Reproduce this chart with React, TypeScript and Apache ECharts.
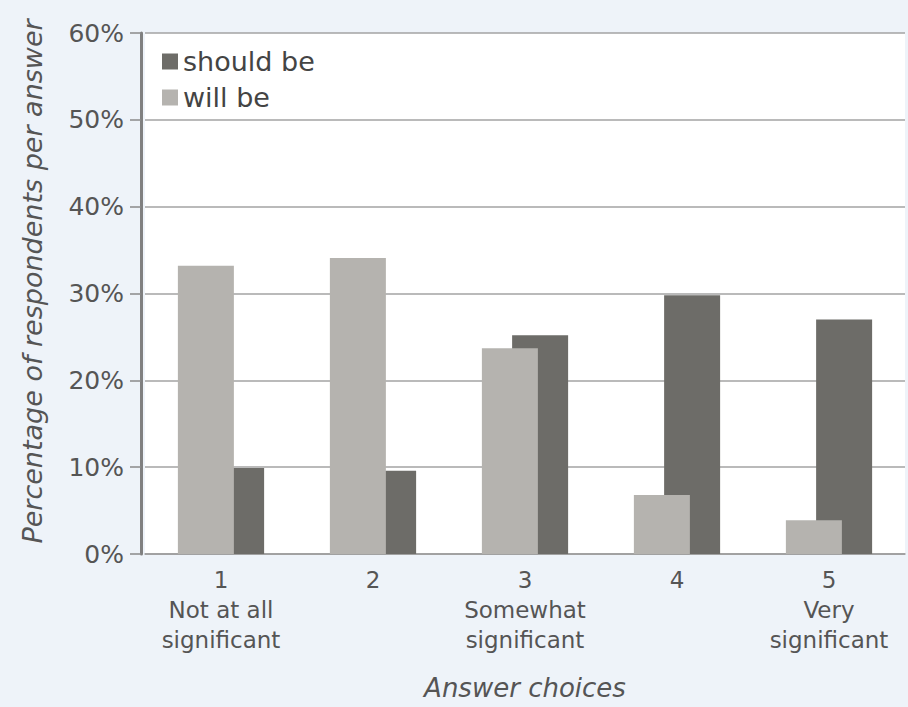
import React, { useEffect, useRef } from "react";
import * as echarts from "echarts";

const categories = ["1\nNot at all\nsignificant", "2", "3\nSomewhat\nsignificant", "4", "5\nVery\nsignificant"];
const willBe = [33.2, 34.1, 23.7, 6.8, 3.9];
const shouldBe = [9.9, 9.6, 25.2, 29.8, 27.0];
const legendNames = ["should be", "will be"];
const yAxisTitle = "Percentage of respondents per answer";
const xAxisTitle = "Answer choices";

const FONT = "DejaVu Sans";

export default function App() {
  const ref = useRef<HTMLDivElement>(null);
  useEffect(() => {
    document.body.style.margin = "0";
    const chart = echarts.init(ref.current!, null, { renderer: "svg" });
    chart.setOption({
      animation: false,
      backgroundColor: "#eef3f9",
      textStyle: { fontFamily: FONT },
      legend: {
        data: legendNames,
        orient: "vertical",
        left: 157,
        top: 43,
        icon: "rect",
        itemWidth: 16,
        itemHeight: 16,
        itemGap: 9,
        textStyle: { fontSize: 27, color: "#444", fontFamily: FONT, padding: [0, 0, 0, 0] },
      },
      grid: {
        left: 145,
        right: 3,
        top: 33,
        bottom: 153,
        show: true,
        backgroundColor: "#ffffff",
        borderWidth: 0,
      },
      xAxis: {
        type: "category",
        data: categories,
        name: xAxisTitle,
        nameLocation: "middle",
        nameGap: 121,
        nameTextStyle: { fontSize: 26, fontStyle: "italic", color: "#555", fontFamily: FONT },
        axisLine: { lineStyle: { color: "#9a9a9a", width: 1.5 } },
        axisTick: { show: false },
        axisLabel: { interval: 0, fontSize: 23, color: "#555", lineHeight: 30, margin: 11, fontFamily: FONT },
      },
      yAxis: {
        type: "value",
        min: 0,
        max: 60,
        interval: 10,
        offset: 4,
        name: yAxisTitle,
        nameLocation: "middle",
        nameRotate: 90,
        nameGap: 95,
        nameTextStyle: { fontSize: 27, fontStyle: "italic", color: "#555", fontFamily: FONT, padding: [0, 0, 0, 24] },
        axisLine: { show: true, lineStyle: { color: "#808080", width: 3 } },
        axisTick: { show: true, length: 11, lineStyle: { color: "#8a8a8a", width: 1.5 } },
        axisLabel: { formatter: "{value}%", fontSize: 25, color: "#555", margin: 17, fontFamily: FONT },
        splitLine: { lineStyle: { color: "#a3a3a3", width: 1.5 } },
      },
      series: [
        {
          name: "will be",
          type: "bar",
          data: willBe,
          barWidth: 56,
          barGap: "-46%",
          z: 3,
          itemStyle: { color: "#b5b3af" },
        },
        {
          name: "should be",
          type: "bar",
          data: shouldBe,
          barWidth: 56,
          z: 2,
          itemStyle: { color: "#6d6c68" },
        },
      ],
    });
    return () => chart.dispose();
  }, []);
  return <div ref={ref} style={{ width: 908, height: 707 }} />;
}
